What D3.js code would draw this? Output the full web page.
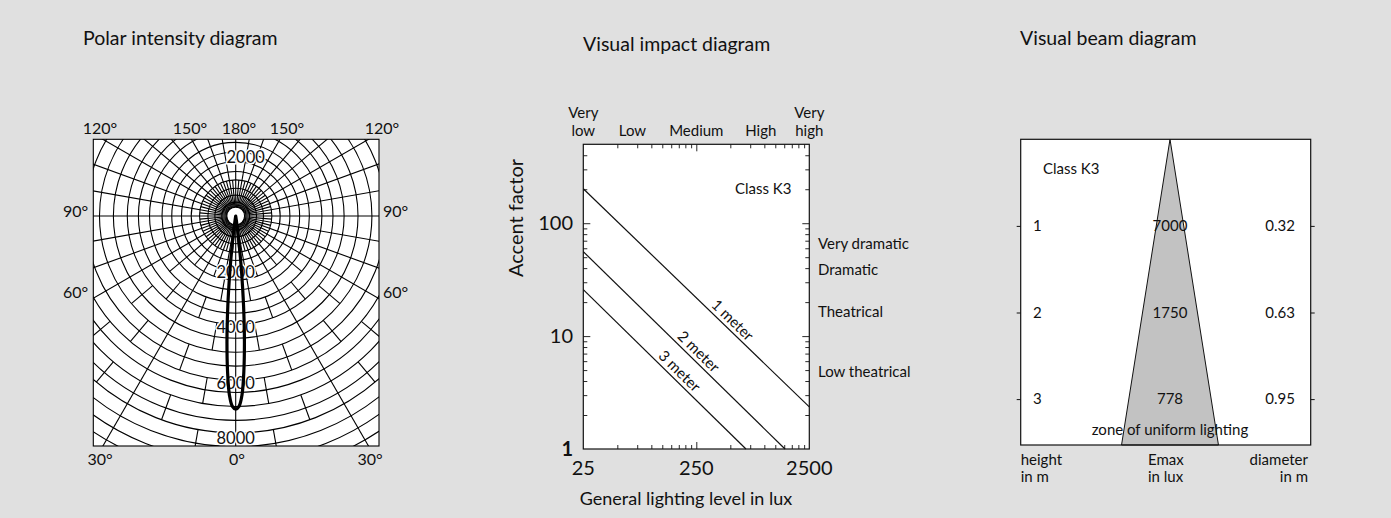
<!DOCTYPE html>
<html><head><meta charset="utf-8">
<script src="https://cdn.jsdelivr.net/npm/d3@7"></script>
<style>
html,body{margin:0;padding:0;background:#e0e0e0;}
svg{display:block;font-family:Lato,"Open Sans",sans-serif;}
</style></head>
<body>
<svg id="c" width="1391" height="518"></svg>
<script>
// ---------------- DATA ----------------
// Polar intensity diagram
const polarRingCd = [320,500,750,1000,1300,1600,1950,2300,2650,3100,3500,3900,4400,4900,5400,5900,6350,6850,7350,7800,8300,8800,9300,9800];
const polarScaleLabels = [2000,4000,6000,8000];
const lobeAngles = [0,1,2,3,4,5,6,7,8,9];
const lobeCd     = [6950,6850,6450,5600,4500,3250,2000,1000,350,0];
const polarTopLabels = ["120°","150°","180°","150°","120°"];
const polarSideLabels = ["90°","60°"];
const polarBottomLabels = ["30°","0°","30°"];

// Visual impact diagram
const luxCategories = ["Very low","Low","Medium","High","Very high"];
const luxCategoryAt = [25,68,250,930,2500];
const accentClasses = ["Very dramatic","Dramatic","Theatrical","Low theatrical"];
const accentClassAt = [66,39,16.5,4.8];
const meterNames = ["1 meter","2 meter","3 meter"];
const meterLux    = [[25,2500],[25,1524],[25,688]];
const meterAccent = [[202,2.36],[56,1],[25.8,1]];
const meterLabelLux = [460,230,156];
const xTickLabels = [25,250,2500];
const yTickLabels = [1,10,100];

// Visual beam diagram
const beamHeights = [1,2,3];
const beamEmax = [7000,1750,778];
const beamDiameter = [0.32,0.63,0.95];

// ---------------- DRAW ----------------
const svg = d3.select("#c");
svg.append("rect").attr("width",1391).attr("height",518).attr("fill","#e0e0e0");

// Titles
const titles = [["Polar intensity diagram",83,45],["Visual impact diagram",583,51],["Visual beam diagram",1020,45]];
svg.selectAll("text.title").data(titles).enter().append("text")
  .attr("x",d=>d[1]).attr("y",d=>d[2]).attr("font-size",19.5).attr("fill","#111").text(d=>d[0]);

// ======== POLAR ========
(function(){
  const cx=235.7, cy=216;
  const bx0=93.3, by0=139.3, bx1=379, by1=446;
  const rS = d3.scaleLinear().domain([0,2000]).range([0,55.6]);
  const g = svg.append("g");
  svg.append("defs").append("clipPath").attr("id","pclip").append("rect")
    .attr("x",bx0).attr("y",by0).attr("width",bx1-bx0).attr("height",by1-by0);
  g.append("rect").attr("x",bx0).attr("y",by0).attr("width",bx1-bx0).attr("height",by1-by0).attr("fill","#fff");
  const gg = g.append("g").attr("clip-path","url(#pclip)");
  const r0 = rS(polarRingCd[0]);
  const sw = 1.1;
  // rings
  gg.selectAll("circle.ring").data(polarRingCd).enter().append("circle")
    .attr("cx",cx).attr("cy",cy).attr("r",d=>rS(d)).attr("fill","none").attr("stroke","#000").attr("stroke-width",sw);
  // spokes
  const segs=[];
  function add(th,ra,rb){
    [1,-1].forEach(s=>{
      if((th===0||th===180)&&s===-1) return;
      const a=th*Math.PI/180;
      segs.push([cx+s*ra*Math.sin(a),cy+ra*Math.cos(a),cx+s*rb*Math.sin(a),cy+rb*Math.cos(a)]);
    });
  }
  const longSp=[0,30,60,70,80,90,100,110,120,130,140,150,160,170,180];
  longSp.forEach(t=>add(t,r0,420));
  for(let t=0;t<=180;t+=5){ if(t%10!==0) add(t,r0,rS(polarRingCd[4])); }
  [10,20,40,50].forEach(t=>add(t,r0,rS(polarRingCd[7])));
  const groups=[[7,9],[9,11],[11,13],[13,15],[15,17],[17,19],[19,21],[21,23]];
  const setA=[10,50], setB=[20,40];
  groups.forEach((gr,i)=>{
    const set = (i%2===0)?setA:setB;
    set.forEach(t=>add(t,rS(polarRingCd[gr[0]]),rS(polarRingCd[gr[1]])));
  });
  gg.selectAll("line.sp").data(segs).enter().append("line")
    .attr("x1",d=>d[0]).attr("y1",d=>d[1]).attr("x2",d=>d[2]).attr("y2",d=>d[3])
    .attr("stroke","#000").attr("stroke-width",sw);
  // center white disc
  gg.append("circle").attr("cx",cx).attr("cy",cy).attr("r",r0).attr("fill","#fff").attr("stroke","#000").attr("stroke-width",sw);
  // intensity labels
  const lab = gg.append("g").attr("font-size",16.5).attr("text-anchor","middle").attr("fill","#111");
  lab.selectAll("text").data(polarScaleLabels).enter().append("text")
    .attr("x",cx).attr("y",d=>cy+rS(d)).attr("dy","0.36em")
    .attr("stroke","#fff").attr("stroke-width",3).attr("paint-order","stroke").text(d=>d);
  lab.append("text").attr("x",cx+10).attr("y",cy-rS(2000)-3).attr("dy","0.36em")
    .attr("stroke","#fff").attr("stroke-width",3).attr("paint-order","stroke").text("2000");
  // lobe
  const pts=[];
  for(let i=lobeAngles.length-1;i>0;i--) pts.push([-lobeAngles[i],lobeCd[i]]);
  for(let i=0;i<lobeAngles.length;i++) pts.push([lobeAngles[i],lobeCd[i]]);
  const lobe = d3.lineRadial().angle(d=>Math.PI-d[0]*Math.PI/180).radius(d=>rS(d[1])).curve(d3.curveCatmullRomClosed);
  gg.append("path").attr("transform",`translate(${cx},${cy})`).attr("d",lobe(pts))
    .attr("fill","none").attr("stroke","#000").attr("stroke-width",3.2).attr("stroke-linejoin","round");
  g.append("rect").attr("x",bx0).attr("y",by0).attr("width",bx1-bx0).attr("height",by1-by0).attr("fill","none").attr("stroke","#000").attr("stroke-width",1.1);
  // angle labels
  const tl = g.append("g").attr("font-size",16).attr("fill","#111").attr("text-anchor","middle");
  const topX=[100,190,239,287,382];
  tl.selectAll("text.t").data(polarTopLabels).enter().append("text").attr("x",(d,i)=>topX[i]).attr("y",134).text(d=>d);
  const sideY=[217,298];
  polarSideLabels.forEach((t,i)=>{
    tl.append("text").attr("x",75.5).attr("y",sideY[i]).text(t);
    tl.append("text").attr("x",395.5).attr("y",sideY[i]).text(t);
  });
  const botX=[100,237,370];
  tl.selectAll("text.b").data(polarBottomLabels).enter().append("text").attr("x",(d,i)=>botX[i]).attr("y",465).text(d=>d);
})();

// ======== VISUAL IMPACT ========
(function(){
  const x = d3.scaleLog().domain([25,2500]).range([583.3,809.3]);
  const y = d3.scaleLog().domain([1,500]).range([449,144.3]);
  const g = svg.append("g");
  g.append("rect").attr("x",583.3).attr("y",144.3).attr("width",226).attr("height",304.7).attr("fill","#fff");
  // ticks
  const xMinor=[], yMinor=[];
  [25,250].forEach(b=>{for(let k=2;k<=9;k++) xMinor.push(b*k);});
  [1,10,100].forEach(b=>{for(let k=2;k<=9;k++) if(b*k<500) yMinor.push(b*k);});
  const tk = (ax)=>ax.tickFormat("").tickSizeOuter(0);
  g.append("g").attr("transform","translate(0,449)").call(tk(d3.axisBottom(x).tickValues(xMinor).tickSize(-4)));
  g.append("g").attr("transform","translate(0,144.3)").call(tk(d3.axisTop(x).tickValues(xMinor).tickSize(-4)));
  g.append("g").attr("transform","translate(583.3,0)").call(tk(d3.axisLeft(y).tickValues(yMinor).tickSize(-4)));
  g.append("g").attr("transform","translate(809.3,0)").call(tk(d3.axisRight(y).tickValues(yMinor).tickSize(-4)));
  g.append("g").attr("transform","translate(583.3,0)").call(tk(d3.axisLeft(y).tickValues([10,100]).tickSize(-7)));
  g.append("g").attr("transform","translate(809.3,0)").call(tk(d3.axisRight(y).tickValues([10,100]).tickSize(-7)));
  g.append("g").attr("transform","translate(0,449)").call(tk(d3.axisBottom(x).tickValues([250]).tickSize(-7)));
  g.append("g").attr("transform","translate(0,144.3)").call(tk(d3.axisTop(x).tickValues([250]).tickSize(-7)));
  g.selectAll(".domain").remove();
  g.selectAll(".tick line").attr("stroke","#111").attr("stroke-width",0.9);
  g.append("rect").attr("x",583.3).attr("y",144.3).attr("width",226).attr("height",304.7).attr("fill","none").attr("stroke","#111").attr("stroke-width",1.2);
  // lines
  const line = d3.line().x(d=>x(d[0])).y(d=>y(d[1]));
  meterNames.forEach((n,i)=>{
    const p = meterLux[i].map((v,j)=>[v,meterAccent[i][j]]);
    g.append("path").attr("d",line(p)).attr("fill","none").attr("stroke","#111").attr("stroke-width",1.2);
    const slope = (Math.log10(meterAccent[i][1])-Math.log10(meterAccent[i][0]))/(Math.log10(meterLux[i][1])-Math.log10(meterLux[i][0]));
    const lx = meterLabelLux[i];
    const ly = meterAccent[i][0]*Math.pow(lx/meterLux[i][0],slope);
    const px = [x(meterLux[i][0]),y(meterAccent[i][0])], qx=[x(meterLux[i][1]),y(meterAccent[i][1])];
    const ang = Math.atan2(qx[1]-px[1],qx[0]-px[0])*180/Math.PI;
    g.append("text").attr("transform",`translate(${x(lx)},${y(ly)}) rotate(${ang})`)
      .attr("dy",-4).attr("text-anchor","middle").attr("font-size",15).attr("fill","#111").text(n);
  });
  g.append("text").attr("x",735).attr("y",194.3).attr("font-size",15).attr("fill","#111").text("Class K3");
  // tick labels
  g.selectAll("text.xl").data(xTickLabels).enter().append("text").attr("x",d=>x(d)).attr("y",475)
    .attr("text-anchor","middle").attr("font-size",20).attr("fill","#111").text(d=>d);
  g.selectAll("text.yl").data(yTickLabels).enter().append("text").attr("x",573).attr("y",d=>y(d)).attr("dy","0.36em")
    .attr("text-anchor","end").attr("font-size",20).attr("font-weight",d=>d===1?"bold":"normal").attr("fill","#111").text(d=>d);
  // top categories
  luxCategories.forEach((c,i)=>{
    const parts = c.split(" ");
    const t = g.append("text").attr("x",x(luxCategoryAt[i])).attr("text-anchor","middle").attr("font-size",15).attr("fill","#111");
    if(parts.length>1 && c.startsWith("Very")){
      t.append("tspan").attr("x",x(luxCategoryAt[i])).attr("y",118).text(parts[0]);
      t.append("tspan").attr("x",x(luxCategoryAt[i])).attr("y",136).text(parts[1]);
    } else t.attr("y",136).text(c);
  });
  // right classes
  g.selectAll("text.rc").data(accentClasses).enter().append("text").attr("x",818).attr("y",(d,i)=>y(accentClassAt[i])).attr("dy","0.36em")
    .attr("font-size",15).attr("fill","#111").text(d=>d);
  // axis titles
  g.append("text").attr("transform","translate(523,218) rotate(-90)").attr("text-anchor","middle").attr("font-size",20).attr("fill","#111").text("Accent factor");
  g.append("text").attr("x",686).attr("y",505).attr("text-anchor","middle").attr("font-size",18).attr("fill","#111").text("General lighting level in lux");
})();

// ======== BEAM ========
(function(){
  const hMax = 3.53;
  const y = d3.scaleLinear().domain([0,hMax]).range([139.3,445]);
  const x = d3.scaleLinear().domain([-1,1]).range([1170-86.7,1170+86.7]);
  const g = svg.append("g");
  g.append("rect").attr("x",1020.7).attr("y",139.3).attr("width",290).attr("height",305.7).attr("fill","#fff");
  const ratio = beamDiameter[2]/beamHeights[2];
  const half = ratio*hMax/2;
  g.append("path").attr("d",d3.line()([[x(0),y(0)],[x(-half),y(hMax)],[x(half),y(hMax)]])+"Z")
    .attr("fill","#c2c2c2").attr("stroke","#111").attr("stroke-width",1);
  g.append("rect").attr("x",1020.7).attr("y",139.3).attr("width",290).attr("height",305.7).attr("fill","none").attr("stroke","#111").attr("stroke-width",1.2);
  g.append("g").attr("transform","translate(1020.7,0)").call(d3.axisLeft(y).tickValues(beamHeights).tickSize(4).tickFormat("")).select(".domain").remove();
  g.append("g").attr("transform","translate(1310.7,0)").call(d3.axisRight(y).tickValues(beamHeights).tickSize(4).tickFormat("")).select(".domain").remove();
  g.selectAll(".tick line").attr("stroke","#111");
  const t = g.append("g").attr("font-size",15).attr("fill","#111");
  t.selectAll("text.h").data(beamHeights).enter().append("text").attr("x",1033).attr("y",d=>y(d)+5).text(d=>d);
  t.selectAll("text.e").data(beamEmax).enter().append("text").attr("x",x(0)).attr("y",(d,i)=>y(beamHeights[i])+5).attr("text-anchor","middle").text(d=>d);
  t.selectAll("text.d").data(beamDiameter).enter().append("text").attr("x",1295).attr("y",(d,i)=>y(beamHeights[i])+5).attr("text-anchor","end").text(d=>d.toFixed(2));
  t.append("text").attr("x",1043).attr("y",174).text("Class K3");
  t.append("text").attr("x",x(0)).attr("y",435).attr("text-anchor","middle").text("zone of uniform lighting");
  t.append("text").attr("x",1020.7).attr("y",465).text("height");
  t.append("text").attr("x",1020.7).attr("y",482).text("in m");
  t.append("text").attr("x",1148).attr("y",465).text("Emax");
  t.append("text").attr("x",1148).attr("y",482).text("in lux");
  t.append("text").attr("x",1308).attr("y",465).attr("text-anchor","end").text("diameter");
  t.append("text").attr("x",1308).attr("y",482).attr("text-anchor","end").text("in m");
})();
</script>
</body></html>
